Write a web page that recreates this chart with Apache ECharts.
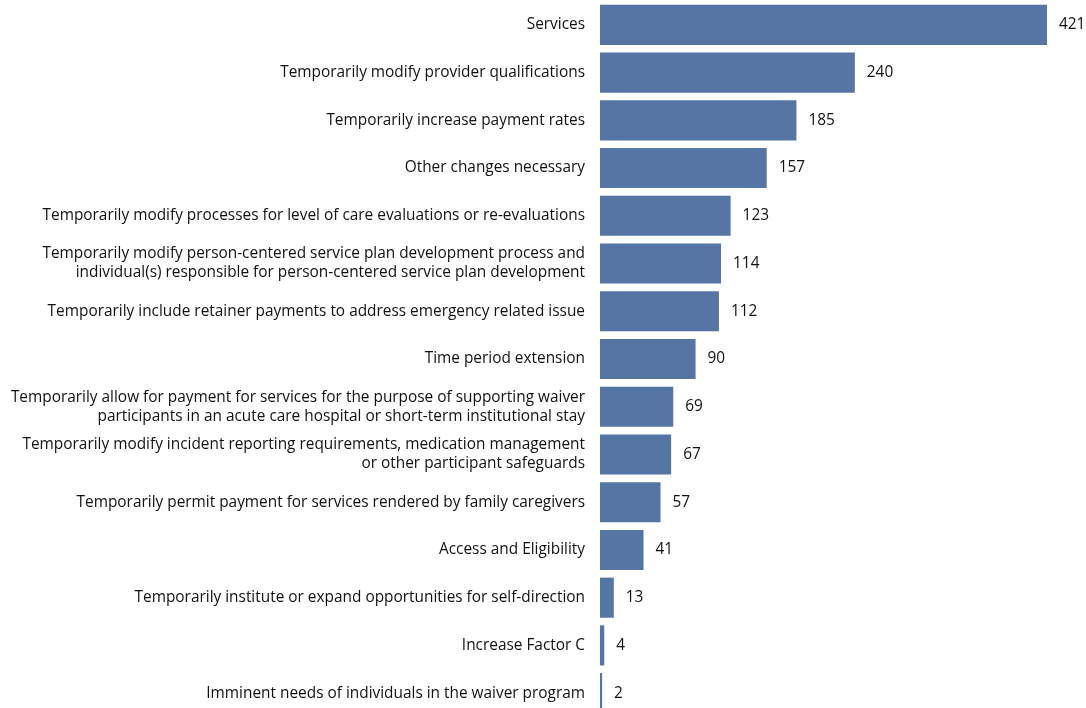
<!DOCTYPE html>
<html>
<head>
<meta charset="utf-8">
<script src="https://cdn.jsdelivr.net/npm/echarts@6/dist/echarts.min.js"></script>
<style>
html,body{margin:0;padding:0;background:#fff;overflow:hidden;}
#chart{width:1086px;height:730px;}
</style>
</head>
<body>
<div id="chart"></div>
<script>
const categories = [
  "Services",
  "Temporarily modify provider qualifications",
  "Temporarily increase payment rates",
  "Other changes necessary",
  "Temporarily modify processes for level of care evaluations or re-evaluations",
  "Temporarily modify person-centered service plan development process and\nindividual(s) responsible for person-centered service plan development",
  "Temporarily include retainer payments to address emergency related issue",
  "Time period extension",
  "Temporarily allow for payment for services for the purpose of supporting waiver\nparticipants in an acute care hospital or short-term institutional stay",
  "Temporarily modify incident reporting requirements, medication management\nor other participant safeguards",
  "Temporarily permit payment for services rendered by family caregivers",
  "Access and Eligibility",
  "Temporarily institute or expand opportunities for self-direction",
  "Increase Factor C",
  "Imminent needs of individuals in the waiver program"
];
const values = [421, 240, 185, 157, 123, 114, 112, 90, 69, 67, 57, 41, 13, 4, 2];

const FONT = 'Open Sans, Liberation Sans, Arial, sans-serif';
const chart = echarts.init(document.getElementById('chart'));
chart.setOption({
  animation: false,
  grid: {left: 600, top: 1, width: 447, height: 716},
  xAxis: {type: 'value', min: 0, max: 421, show: false},
  yAxis: {
    type: 'category', data: categories, inverse: true,
    axisLine: {show: false}, axisTick: {show: false},
    axisLabel: {
      margin: 15, fontSize: 15.4, color: '#111', lineHeight: 19,
      fontFamily: FONT, align: 'right'
    }
  },
  series: [{
    type: 'bar', data: values, barCategoryGap: '16%',
    itemStyle: {color: '#5575a4'},
    label: {
      show: true, position: 'right', distance: 12, fontSize: 15.4,
      color: '#111', fontFamily: FONT
    }
  }]
});
</script>
</body>
</html>
